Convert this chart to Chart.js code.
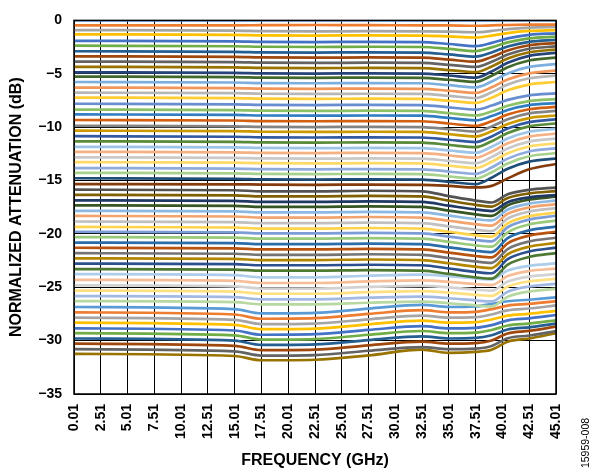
<!DOCTYPE html>
<html>
<head>
<meta charset="utf-8">
<script src="https://cdn.jsdelivr.net/npm/chart.js@4.4.1/dist/chart.umd.min.js"></script>
<style>
  html, body { margin: 0; padding: 0; background: #fff; }
  #wrap { width: 593px; height: 473px; }
</style>
</head>
<body>
<div id="wrap"><canvas id="grafico" width="593" height="473"></canvas></div>
<script>
// frequency points (GHz) where each state's normalized attenuation was read
const frecuencias = [0.01, 15, 17.5, 22.5, 27.5, 32.5, 35, 37.5, 39, 40.5, 42.5, 45.01];

const xTicks = [0.01, 2.51, 5.01, 7.51, 10.01, 12.51, 15.01, 17.51, 20.01, 22.51, 25.01, 27.51, 30.01, 32.51, 35.01, 37.51, 40.01, 42.51, 45.01];
const xTickLabels = ['0.01', '2.51', '5.01', '7.51', '10.01', '12.51', '15.01', '17.51', '20.01', '22.51', '25.01', '27.51', '30.01', '32.51', '35.01', '37.51', '40.01', '42.51', '45.01'];
const yTicks = [0, -5, -10, -15, -20, -25, -30, -35];
const yTickLabels = ['0', '\u22125', '\u221210', '\u221215', '\u221220', '\u221225', '\u221230', '\u221235'];

// normalized attenuation (dB), states 0..15
const estados0a15 = [
  [0, 0, 0, 0, 0, 0, 0, 0, 0, 0, 0, 0],
  [-0.46, -0.46, -0.45, -0.43, -0.45, -0.46, -0.47, -0.50, -0.47, -0.43, -0.40, -0.39],
  [-0.91, -0.96, -1.01, -1.03, -1.01, -1.03, -1.06, -1.11, -0.99, -0.81, -0.67, -0.61],
  [-1.30, -1.35, -1.40, -1.42, -1.40, -1.42, -1.50, -1.60, -1.43, -1.19, -0.99, -0.91],
  [-1.91, -1.96, -2.01, -2.03, -2.01, -2.03, -2.21, -2.41, -2.11, -1.69, -1.35, -1.21],
  [-2.37, -2.42, -2.47, -2.49, -2.47, -2.49, -2.67, -2.87, -2.53, -2.06, -1.68, -1.52],
  [-2.89, -2.94, -2.99, -3.01, -2.99, -3.01, -3.19, -3.39, -3.00, -2.45, -2.01, -1.82],
  [-3.37, -3.42, -3.47, -3.49, -3.47, -3.49, -3.67, -3.87, -3.43, -2.82, -2.33, -2.12],
  [-3.86, -3.91, -3.96, -3.98, -3.96, -3.98, -4.16, -4.36, -3.88, -3.20, -2.66, -2.43],
  [-4.35, -4.40, -4.45, -4.47, -4.45, -4.47, -4.65, -4.85, -4.32, -3.58, -2.98, -2.73],
  [-4.86, -4.91, -4.96, -4.98, -4.96, -4.98, -5.16, -5.36, -4.78, -3.97, -3.32, -3.04],
  [-5.26, -5.31, -5.36, -5.38, -5.36, -5.38, -5.56, -5.76, -5.19, -4.40, -3.76, -3.49],
  [-5.77, -5.82, -5.87, -5.89, -5.87, -5.89, -6.07, -6.27, -5.73, -4.97, -4.36, -4.10],
  [-6.29, -6.34, -6.39, -6.41, -6.39, -6.41, -6.59, -6.79, -6.27, -5.54, -4.96, -4.71],
  [-6.77, -6.82, -6.87, -6.89, -6.87, -6.89, -7.07, -7.27, -6.74, -6.01, -5.42, -5.17],
  [-7.23, -7.28, -7.33, -7.35, -7.33, -7.35, -7.53, -7.73, -7.24, -6.55, -6.01, -5.77]
];

// states 16..31
const estados16a31 = [
  [-7.81, -7.86, -7.91, -7.93, -7.91, -7.93, -8.14, -8.36, -7.98, -7.45, -7.02, -6.84],
  [-8.36, -8.41, -8.46, -8.48, -8.46, -8.48, -8.69, -8.91, -8.53, -7.99, -7.56, -7.38],
  [-8.81, -8.86, -8.91, -8.93, -8.91, -8.93, -9.14, -9.36, -8.96, -8.39, -7.94, -7.75],
  [-9.33, -9.38, -9.43, -9.45, -9.43, -9.45, -9.66, -9.88, -9.44, -8.82, -8.32, -8.11],
  [-9.87, -9.92, -9.97, -9.99, -9.97, -9.99, -10.20, -10.42, -9.93, -9.26, -8.71, -8.48],
  [-10.33, -10.38, -10.43, -10.45, -10.43, -10.45, -10.66, -10.88, -10.39, -9.70, -9.15, -8.91],
  [-10.85, -10.90, -10.95, -10.97, -10.95, -10.97, -11.18, -11.40, -10.87, -10.12, -9.53, -9.27],
  [-11.33, -11.38, -11.43, -11.45, -11.43, -11.45, -11.66, -11.88, -11.32, -10.55, -9.93, -9.66],
  [-11.85, -11.90, -11.95, -11.97, -11.95, -11.97, -12.18, -12.40, -11.84, -11.06, -10.43, -10.16],
  [-12.31, -12.36, -12.41, -12.43, -12.41, -12.43, -12.64, -12.86, -12.30, -11.52, -10.89, -10.62],
  [-12.83, -12.88, -12.93, -12.95, -12.93, -12.95, -13.16, -13.38, -12.80, -12.00, -11.36, -11.08],
  [-13.28, -13.33, -13.38, -13.40, -13.38, -13.40, -13.61, -13.83, -13.25, -12.45, -11.81, -11.53],
  [-13.83, -13.88, -13.93, -13.95, -13.93, -13.95, -14.16, -14.38, -13.78, -12.95, -12.28, -11.99],
  [-14.28, -14.33, -14.38, -14.40, -14.38, -14.40, -14.61, -14.83, -14.23, -13.40, -12.73, -12.44],
  [-14.79, -14.84, -14.89, -14.91, -14.89, -14.91, -15.12, -15.34, -14.74, -13.90, -13.23, -12.94],
  [-15.34, -15.36, -15.38, -15.40, -15.38, -15.40, -15.50, -15.65, -15.50, -14.80, -13.95, -13.45]
];

// states 32..47
const estados32a47 = [
  [-15.86, -15.91, -16.01, -16.01, -15.96, -16.01, -16.46, -16.88, -17.06, -16.29, -15.87, -15.66],
  [-16.34, -16.39, -16.49, -16.49, -16.44, -16.49, -16.89, -17.28, -17.44, -16.64, -16.21, -15.99],
  [-16.86, -16.91, -17.01, -17.01, -16.96, -17.01, -17.36, -17.71, -17.86, -17.03, -16.58, -16.36],
  [-17.32, -17.37, -17.47, -17.47, -17.42, -17.47, -17.82, -18.17, -18.32, -17.33, -16.79, -16.52],
  [-17.84, -17.89, -17.99, -17.99, -17.94, -17.99, -18.29, -18.61, -18.74, -17.72, -17.17, -16.89],
  [-18.32, -18.37, -18.47, -18.47, -18.42, -18.47, -18.77, -19.09, -19.22, -18.12, -17.52, -17.22],
  [-18.84, -18.89, -18.99, -18.99, -18.94, -18.99, -19.29, -19.61, -19.74, -18.56, -17.91, -17.59],
  [-19.35, -19.40, -19.50, -19.50, -19.45, -19.50, -19.80, -20.12, -20.25, -19.01, -18.34, -18.00],
  [-19.80, -19.85, -19.95, -19.95, -19.90, -19.95, -20.25, -20.57, -20.70, -19.38, -18.66, -18.30],
  [-20.30, -20.35, -20.45, -20.45, -20.40, -20.45, -20.75, -21.07, -21.20, -19.85, -19.12, -18.75],
  [-20.81, -20.86, -20.96, -20.96, -20.91, -20.96, -21.26, -21.58, -21.71, -20.39, -19.67, -19.31],
  [-21.30, -21.35, -21.45, -21.45, -21.40, -21.45, -21.75, -22.07, -22.20, -20.88, -20.16, -19.80],
  [-21.81, -21.86, -21.96, -21.96, -21.91, -21.96, -22.26, -22.58, -22.71, -21.42, -20.71, -20.36],
  [-22.30, -22.35, -22.45, -22.45, -22.40, -22.45, -22.75, -23.07, -23.20, -21.91, -21.20, -20.85],
  [-22.79, -22.84, -22.94, -22.94, -22.89, -22.94, -23.24, -23.56, -23.69, -22.37, -21.65, -21.29],
  [-23.30, -23.35, -23.45, -23.45, -23.40, -23.45, -23.75, -24.07, -24.20, -22.88, -22.16, -21.80]
];

// states 48..63
const estados48a63 = [
  [-23.77, -23.87, -24.07, -24.07, -23.92, -23.82, -23.97, -24.17, -24.27, -23.44, -22.99, -22.77],
  [-24.30, -24.40, -24.60, -24.60, -24.45, -24.35, -24.50, -24.70, -24.80, -23.95, -23.48, -23.25],
  [-24.82, -24.92, -25.12, -25.12, -24.97, -24.87, -25.02, -25.22, -25.32, -24.47, -24.00, -23.77],
  [-25.31, -25.41, -25.61, -25.61, -25.46, -25.36, -25.51, -25.71, -25.81, -24.93, -24.45, -24.21],
  [-25.83, -25.93, -26.13, -26.13, -25.98, -25.88, -26.03, -26.23, -26.33, -25.42, -24.93, -24.68],
  [-26.30, -26.40, -26.60, -26.60, -26.45, -26.35, -26.50, -26.70, -26.80, -25.89, -25.40, -25.15],
  [-26.85, -27.05, -27.45, -27.40, -27.00, -26.65, -26.85, -26.80, -26.55, -26.31, -26.17, -25.95],
  [-27.35, -27.55, -27.95, -27.90, -27.50, -27.15, -27.35, -27.30, -27.05, -26.72, -26.56, -26.30],
  [-27.85, -28.05, -28.45, -28.40, -28.00, -27.65, -27.85, -27.80, -27.55, -27.16, -26.99, -26.70],
  [-28.32, -28.52, -28.92, -28.87, -28.47, -28.12, -28.32, -28.27, -28.02, -27.66, -27.49, -27.22],
  [-28.85, -29.05, -29.45, -29.40, -29.00, -28.65, -28.85, -28.80, -28.55, -28.10, -27.91, -27.60],
  [-29.30, -29.50, -29.90, -29.85, -29.45, -29.10, -29.30, -29.25, -29.00, -28.58, -28.40, -28.10],
  [-29.80, -30.00, -30.40, -30.35, -29.95, -29.60, -29.80, -29.75, -29.50, -28.96, -28.75, -28.40],
  [-30.29, -30.49, -30.89, -30.84, -30.44, -30.09, -30.29, -30.24, -29.99, -29.33, -29.09, -28.69],
  [-30.80, -31.00, -31.40, -31.35, -30.95, -30.60, -30.80, -30.75, -30.50, -29.78, -29.52, -29.10],
  [-31.24, -31.44, -31.84, -31.79, -31.39, -30.84, -31.15, -31.05, -30.85, -30.10, -29.80, -29.30]
];

const estados = [...estados0a15, ...estados16a31, ...estados32a47, ...estados48a63];

// office theme accents (h, s, l) and the lumMod/lumOff steps it cycles through
const acentos = [[208.5, 59.2, 59.6], [24.3, 83.9, 56.1], [0, 0, 64.7], [45.2, 100, 50], [218.4, 52.0, 51.8], [95.9, 41.8, 47.8]];
const variantes = [[1, 0], [0.6, 0], [0.8, 0.2], [0.8, 0], [0.6, 0.4], [0.5, 0], [0.7, 0.3], [0.7, 0], [0.5, 0.5]];

function colorSerie(i) {
  const [h, s, l] = acentos[i % 6];
  const [mod, off] = variantes[Math.floor(i / 6) % 9];
  const lum = Math.min(100, l * mod + off * 100);
  return `hsl(${h}, ${s}%, ${lum.toFixed(1)}%)`;
}

const fuente = "'Liberation Sans', Arial, sans-serif";

const marco = {
  id: 'marco',
  afterDatasetsDraw(chart) {
    const { ctx, chartArea: a } = chart;
    ctx.save();
    ctx.strokeStyle = '#000';
    ctx.lineWidth = 1.5;
    ctx.strokeRect(a.left, a.top, a.right - a.left, a.bottom - a.top);
    ctx.restore();
  },
  afterDraw(chart) {
    const ctx = chart.ctx;
    ctx.save();
    ctx.translate(586, 443);
    ctx.rotate(-Math.PI / 2);
    ctx.font = `10.5px ${fuente}`;
    ctx.fillStyle = '#000';
    ctx.textAlign = 'center';
    ctx.textBaseline = 'middle';
    ctx.fillText('15959-008', 0, 0);
    ctx.restore();
  }
};

const datasets = estados.map((fila, i) => ({
  data: fila.map((v, j) => ({ x: frecuencias[j], y: v })),
  borderColor: colorSerie(i),
  borderWidth: 2.7,
  pointRadius: 0,
  fill: false,
  cubicInterpolationMode: 'monotone'
}));

new Chart(document.getElementById('grafico').getContext('2d'), {
  type: 'line',
  data: { datasets },
  plugins: [marco],
  options: {
    responsive: false,
    animation: false,
    devicePixelRatio: 1,
    layout: { padding: { left: 0, top: 10, right: 37, bottom: 0 } },
    plugins: { legend: { display: false }, tooltip: { enabled: false } },
    scales: {
      x: {
        type: 'linear',
        min: 0.01,
        max: 45.01,
        afterBuildTicks: s => { s.ticks = xTicks.map(v => ({ value: v })); },
        afterFit: s => { s.height = 79; },
        grid: { color: '#000', lineWidth: 1, drawTicks: false },
        border: { display: false },
        ticks: {
          autoSkip: false, minRotation: 90, maxRotation: 90, padding: 10,
          color: '#000', font: { family: fuente, weight: 'bold', size: 14 },
          callback: (v, i) => xTickLabels[i]
        },
        title: {
          display: true, text: 'FREQUENCY (GHz)', color: '#000',
          font: { family: fuente, weight: 'bold', size: 16 },
          padding: { top: 0, bottom: 3 }
        }
      },
      y: {
        min: -35,
        max: 0,
        afterBuildTicks: s => { s.ticks = yTicks.map(v => ({ value: v })); },
        afterFit: s => { s.width = 74; },
        grid: { color: '#000', lineWidth: 1, drawTicks: false },
        border: { display: false },
        ticks: {
          padding: 12, color: '#000',
          font: { family: fuente, weight: 'bold', size: 14 },
          callback: v => yTickLabels[yTicks.indexOf(v)]
        },
        title: {
          display: true, text: 'NORMALIZED ATTENUATION (dB)', color: '#000',
          font: { family: fuente, weight: 'bold', size: 16 },
          padding: { top: 7, bottom: 0 }
        }
      }
    }
  }
});
</script>
</body>
</html>
